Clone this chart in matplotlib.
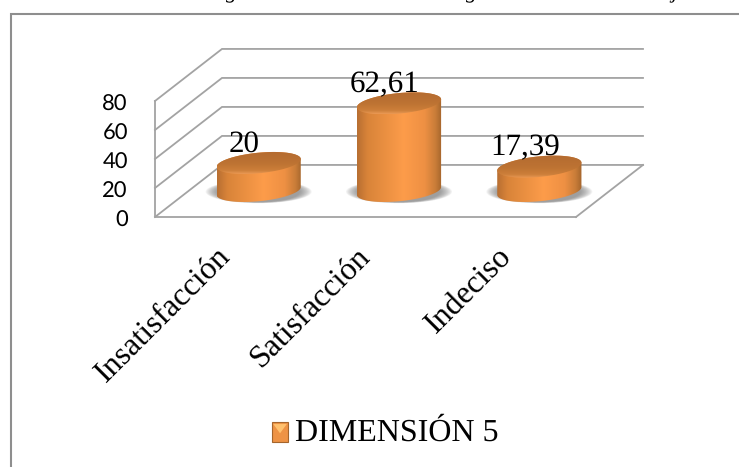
import matplotlib
matplotlib.use("Agg")
import matplotlib.pyplot as plt
import numpy as np
from matplotlib.colors import LinearSegmentedColormap
from matplotlib.legend_handler import HandlerBase
from matplotlib.patches import Ellipse, PathPatch, Polygon, Rectangle
from matplotlib.path import Path
from matplotlib.transforms import ScaledTranslation

categorias = ["Insatisfacción", "Satisfacción", "Indeciso"]
valores = [20, 62.61, 17.39]
serie = "DIMENSIÓN 5"
ticks_y = [0, 20, 40, 60, 80]

plt.rcParams["text.hinting"] = "no_hinting"
plt.rcParams["text.hinting_factor"] = 1

SERIF = "Liberation Serif"
GRIS = "#a3a3a3"

W, H = 739, 467
fig = plt.figure(figsize=(W / 100, H / 100), dpi=100)
ax = fig.add_axes([155 / W, (H - 217) / H, 421 / W, 116 / H])
ax.set_facecolor("none")

# profundidad del piso, en unidades de los ejes
prof_x = 0.4774
prof_y = 35.9
# ancho de la barra, achatamiento e inclinación de la elipse
radio_x = 0.30
radio_y = 7.1
incl = 9.0
esc_barra = 0.965

lado_cmap = LinearSegmentedColormap.from_list(
    "lado", [(0, "#b86f32"), (0.12, "#d98439"), (0.55, "#fd9c4a"),
             (0.8, "#ee9043"), (0.93, "#c87c38"), (1, "#a5652c")])
tapa_cmap = LinearSegmentedColormap.from_list(
    "tapa", [(0, "#b46b30"), (0.55, "#bd7333"), (0.85, "#cd7f3a"), (1, "#eb9a55")])


def gradiente(cmap, puntos, vertical=False):
    # imagen con degradado recortada a la forma dada por los puntos
    xs, ys = puntos[:, 0], puntos[:, 1]
    g = np.linspace(0, 1, 128)
    g = g[:, None] if vertical else g[None, :]
    # en vertical el 0 del mapa queda arriba
    im = ax.imshow(g, cmap=cmap, aspect="auto", zorder=4, origin="upper",
                   extent=[xs.min(), xs.max(), ys.min(), ys.max()], vmin=0, vmax=1)
    forma = PathPatch(Path(puntos), transform=ax.transData)
    im.set_clip_box(fig.bbox)
    im.set_clip_path(forma)


def elipse(xc, yc, t):
    return np.c_[xc + radio_x * np.cos(t),
                 yc + radio_y * np.sin(t) + incl * radio_x * np.cos(t)]


def cilindro(xc, valor):
    yb = prof_y / 2
    yt = yb + valor * esc_barra
    # sombra difusa sobre el piso
    for k in np.linspace(1.26, 0.98, 14):
        ax.add_patch(Ellipse((xc, yb - 0.5), 2 * radio_x * k, 2 * 7.6 * (0.6 + k * 0.35),
                             fc="#707070", ec="none", alpha=0.07, zorder=3, clip_on=False))
    t = np.linspace(0, np.pi, 60)
    lado = np.r_[elipse(xc, yb, t + np.pi), elipse(xc, yt, t)]
    gradiente(lado_cmap, lado)
    tapa = elipse(xc, yt, np.linspace(0, 2 * np.pi, 120))
    gradiente(tapa_cmap, tapa, vertical=True)
    return yt


# paredes y piso
for v in ticks_y:
    ax.plot([0, prof_x, 3 + prof_x], [v, v + prof_y, v + prof_y], color=GRIS, lw=1.3,
            clip_on=False, zorder=1, solid_joinstyle="miter")
ax.plot([3, 3 + prof_x], [0, prof_y], color=GRIS, lw=1.3, clip_on=False, zorder=1)
ax.plot([0, 0, 3], [80, 0, 0], color=GRIS, lw=1.3, clip_on=False, zorder=2,
        solid_joinstyle="miter")

pos_x = np.arange(len(valores)) + 0.5
for i, v in enumerate(valores):
    xc = pos_x[i] + prof_x / 2
    yt = cilindro(xc, v)
    ax.annotate(str(v).replace(".", ","), (xc, yt), xytext=(-10.2, 8),
                textcoords="offset points", ha="center", va="baseline",
                family=SERIF, fontsize=22, color="black", zorder=6, annotation_clip=False)

ax.set_xlim(0, 3)
ax.set_ylim(0, 80)
ax.set_xticks(pos_x)
ax.set_xticklabels(categorias, rotation=45, ha="right", va="top", rotation_mode="anchor",
                   family=SERIF, fontsize=22.9)
ax.set_yticks(ticks_y)
ax.tick_params(axis="y", length=0, pad=19.5, labelsize=16, labelfontfamily="Lato")
ax.tick_params(axis="x", length=0, pad=17.5)
correr = ScaledTranslation(-9.5 / 100, 0, fig.dpi_scale_trans)
for lab in ax.get_xticklabels():
    lab.set_transform(lab.get_transform() + correr)
bajar = ScaledTranslation(0, -1.8 / 100, fig.dpi_scale_trans)
for lab in ax.get_yticklabels():
    lab.set_transform(lab.get_transform() + bajar)
for s in ax.spines.values():
    s.set_visible(False)


class MarcaBisel(HandlerBase):
    def create_artists(self, legend, orig, x, y, w, h, fontsize, trans):
        base = Rectangle((x, y), w, h, fc="#ee9345", ec="#a5652c", lw=0.8, transform=trans)
        luz = Polygon([(x + 0.1 * w, y + h * 0.92), (x + 0.9 * w, y + h * 0.92),
                       (x + 0.5 * w, y + h * 0.45)], fc="#ffc16e", ec="none", transform=trans)
        return [base, luz]


fig.legend([Rectangle((0, 0), 1, 1)], [serie], handler_map={Rectangle: MarcaBisel()},
           loc="center", bbox_to_anchor=(385 / W, (H - 433) / H), frameon=False,
           prop={"family": SERIF, "size": 23}, handlelength=0.53, handleheight=0.57,
           handletextpad=0.2, borderpad=0)

# marco exterior, abierto a la derecha y abajo
fig.add_artist(plt.Line2D([11 / W, 11 / W, 1], [0, (H - 14) / H, (H - 14) / H],
                          color="#8e8e8e", lw=1.5, solid_joinstyle="miter"))

# renglón del texto superior, del que sólo asoman los rasgos descendentes
for xp, letra in zip([231, 471, 674], ["g", "g", "j"]):
    fig.text(xp / W, 1 + 1.5 / H, letra, family=SERIF, style="italic", fontsize=16,
             ha="center", va="baseline", color="black")

fig.savefig("out.png", dpi=100)
